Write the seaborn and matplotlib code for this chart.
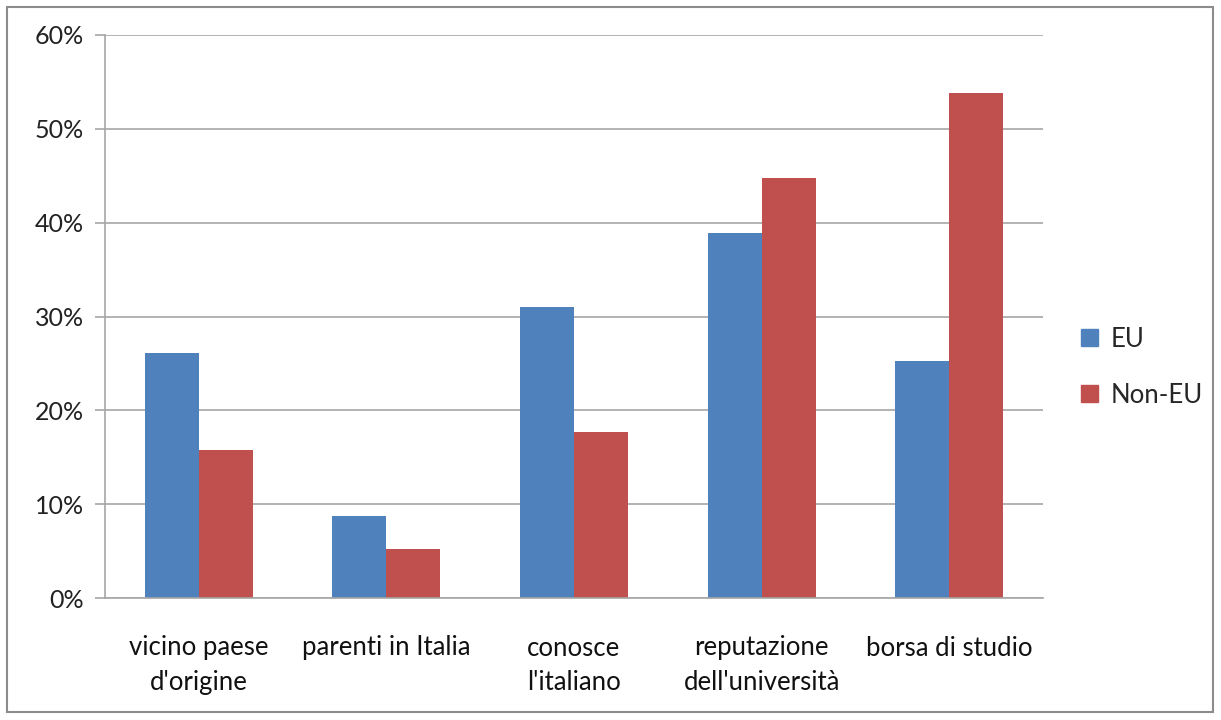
import matplotlib
matplotlib.use("Agg")
import matplotlib.pyplot as plt
import matplotlib.patches as mpatches
import seaborn as sns
import pandas as pd
from matplotlib.ticker import PercentFormatter, MultipleLocator

categories = ["vicino paese\nd'origine", "parenti in Italia", "conosce\nl'italiano",
              "reputazione\ndell'università", "borsa di studio"]
eu_values = [26.1, 8.7, 31.0, 38.9, 25.3]
non_eu_values = [15.8, 5.2, 17.7, 44.8, 53.8]
series_names = ["EU", "Non-EU"]
palette = ["#4F81BD", "#C0504D"]

df = pd.DataFrame({
    "categoria": categories * 2,
    "valore": eu_values + non_eu_values,
    "gruppo": [series_names[0]] * len(categories) + [series_names[1]] * len(categories),
})

sns.set_theme(style="white")
plt.rcParams["font.family"] = ["Lato", "DejaVu Sans"]

fig = plt.figure(figsize=(12.21, 7.2), dpi=100)
ax = fig.add_axes([105 / 1221, 1 - 598 / 720, (1043 - 105) / 1221, (598 - 35) / 720])

sns.barplot(data=df, x="categoria", y="valore", hue="gruppo", palette=palette,
            width=0.576, saturation=1, linewidth=0, ax=ax, legend=False)

ax.set_ylim(0, 60)
ax.set_xlim(-0.5, len(categories) - 0.5)
ax.yaxis.set_major_locator(MultipleLocator(10))
ax.yaxis.set_major_formatter(PercentFormatter(decimals=0))
ax.set_xlabel("")
ax.set_ylabel("")

grid_color = "#a6a6a6"
ax.grid(axis="y", color=grid_color, linewidth=1.2)
ax.set_axisbelow(True)
for side in ["top", "right"]:
    ax.spines[side].set_visible(False)
for side in ["left", "bottom"]:
    ax.spines[side].set_color(grid_color)
    ax.spines[side].set_linewidth(1.2)

# category labels centred, tick marks on category boundaries
ax.set_xticks(range(len(categories)))
ax.set_xticklabels(categories, fontsize=18.5, color="#111111", linespacing=1.48)
ax.tick_params(axis="x", length=0, pad=27)
ax.set_xticks([i - 0.5 for i in range(len(categories) + 1)], minor=True)
ax.tick_params(axis="x", which="minor", length=7, width=1.2, color=grid_color, direction="out")
ax.tick_params(axis="y", length=7, width=1.2, color=grid_color, direction="out",
               labelsize=18, labelcolor="#222222", pad=8, left=True)

handles = [mpatches.Patch(color=c, label=n) for c, n in zip(palette, series_names)]
ax.legend(handles=handles, loc="center left", bbox_to_anchor=(1.03, 0.41),
          frameon=False, fontsize=18.5, handlelength=0.65, handleheight=0.65,
          handletextpad=0.5, labelspacing=1.2, borderaxespad=0)

fig.patches.append(mpatches.Rectangle((7 / 1221, 8 / 720), 1206 / 1221, 705 / 720,
                                      transform=fig.transFigure, fill=False,
                                      edgecolor="#8c8c8c", linewidth=1.5))

fig.savefig("out.png", dpi=100, facecolor="white")
